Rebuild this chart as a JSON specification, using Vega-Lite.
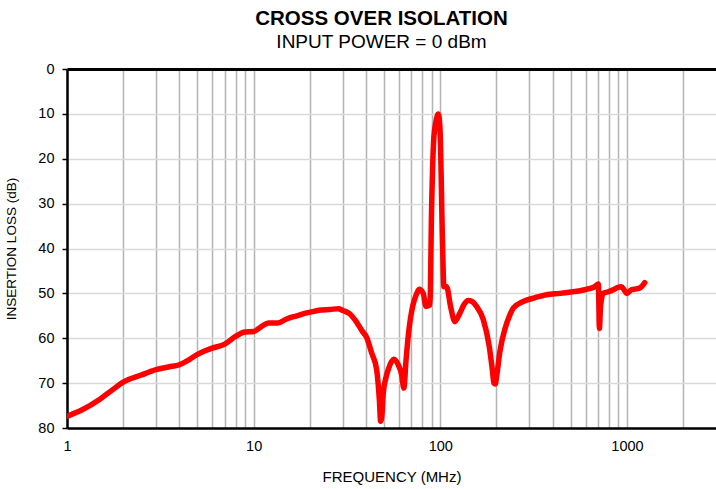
{
  "$schema": "https://vega.github.io/schema/vega-lite/v6.json",
  "width": 649,
  "height": 359,
  "autosize": {"type": "none"},
  "padding": {"left": 67, "top": 69, "right": 0, "bottom": 61},
  "background": "white",
  "title": {
    "text": "CROSS OVER ISOLATION",
    "subtitle": "INPUT POWER = 0 dBm",
    "anchor": "middle",
    "frame": "group",
    "dx": -10,
    "font": "Liberation Sans",
    "fontSize": 20.5,
    "fontWeight": "bold",
    "color": "black",
    "subtitleFont": "Liberation Sans",
    "subtitleFontSize": 19,
    "subtitleColor": "black",
    "subtitlePadding": 4,
    "offset": 9
  },
  "config": {"view": {"stroke": null}},
  "data": {
    "values": [
      {"f": 1, "db": 77.4}, {"f": 1.2, "db": 76.0}, {"f": 1.5, "db": 73.6}, {"f": 1.75, "db": 71.5},
      {"f": 2, "db": 69.8}, {"f": 2.5, "db": 68.2}, {"f": 3, "db": 67.0}, {"f": 3.5, "db": 66.4},
      {"f": 4, "db": 65.9}, {"f": 4.5, "db": 64.8}, {"f": 5, "db": 63.6}, {"f": 5.5, "db": 62.8},
      {"f": 6, "db": 62.2}, {"f": 7, "db": 61.3}, {"f": 8, "db": 59.6}, {"f": 9, "db": 58.6},
      {"f": 10, "db": 58.5}, {"f": 11, "db": 57.4}, {"f": 12, "db": 56.6}, {"f": 13.5, "db": 56.6},
      {"f": 15, "db": 55.7}, {"f": 17, "db": 55.0}, {"f": 19, "db": 54.4}, {"f": 21, "db": 54.0},
      {"f": 23, "db": 53.7}, {"f": 25.6, "db": 53.6}, {"f": 28.4, "db": 53.4}, {"f": 30, "db": 53.8},
      {"f": 32.8, "db": 54.6}, {"f": 35.6, "db": 56.4}, {"f": 38, "db": 58.3}, {"f": 40.3, "db": 59.8},
      {"f": 42.9, "db": 63.3}, {"f": 45.6, "db": 67.0}, {"f": 47.2, "db": 74.0}, {"f": 47.9, "db": 78.5},
      {"f": 48.7, "db": 77.0}, {"f": 49.5, "db": 72.2}, {"f": 51, "db": 69.0}, {"f": 52.6, "db": 67.0},
      {"f": 56.4, "db": 64.7}, {"f": 59.5, "db": 65.9}, {"f": 62, "db": 68.0}, {"f": 63.8, "db": 71.1},
      {"f": 65.5, "db": 65.0}, {"f": 67.3, "db": 59.6}, {"f": 71.1, "db": 52.9}, {"f": 74, "db": 50.5},
      {"f": 77.1, "db": 49.1}, {"f": 81, "db": 50.0}, {"f": 83.8, "db": 52.9}, {"f": 88, "db": 52.6},
      {"f": 89.8, "db": 31.4}, {"f": 92.4, "db": 15.1}, {"f": 95, "db": 11.5}, {"f": 97.5, "db": 10.0},
      {"f": 99.5, "db": 12.8}, {"f": 102.8, "db": 38.8}, {"f": 104.5, "db": 48.5}, {"f": 108.1, "db": 48.5},
      {"f": 113.5, "db": 52.9}, {"f": 119.7, "db": 56.3}, {"f": 127.3, "db": 54.4}, {"f": 134, "db": 52.5},
      {"f": 141.2, "db": 51.6}, {"f": 148, "db": 51.8}, {"f": 156.4, "db": 52.9}, {"f": 169.8, "db": 55.8},
      {"f": 182.9, "db": 61.8}, {"f": 190, "db": 67.0}, {"f": 193.8, "db": 70.0}, {"f": 197, "db": 70.2},
      {"f": 200.4, "db": 68.5}, {"f": 208.5, "db": 63.0}, {"f": 221.8, "db": 58.0}, {"f": 236, "db": 54.8},
      {"f": 246, "db": 53.3}, {"f": 278, "db": 51.8}, {"f": 320, "db": 51.0}, {"f": 370, "db": 50.3},
      {"f": 437, "db": 50.0}, {"f": 500, "db": 49.7}, {"f": 560, "db": 49.4}, {"f": 620, "db": 49.0},
      {"f": 673, "db": 48.5}, {"f": 703, "db": 47.9}, {"f": 712, "db": 57.8}, {"f": 722, "db": 53.0},
      {"f": 746, "db": 50.0}, {"f": 800, "db": 49.6}, {"f": 844, "db": 49.2}, {"f": 890, "db": 48.7},
      {"f": 935, "db": 48.5}, {"f": 965, "db": 49.2}, {"f": 995, "db": 50.0}, {"f": 1058, "db": 49.2},
      {"f": 1120, "db": 49.0}, {"f": 1172, "db": 48.8}, {"f": 1246, "db": 47.6}
    ]
  },
  "mark": {"type": "line", "color": "#ff0000", "strokeWidth": 5.5, "strokeJoin": "round", "strokeCap": "round", "interpolate": "monotone", "clip": true},
  "encoding": {
    "x": {
      "field": "f",
      "type": "quantitative",
      "scale": {"type": "log", "domain": [1, 3000], "nice": false},
      "axis": {
        "title": "FREQUENCY (MHz)",
        "titleFont": "Liberation Sans",
        "titleFontSize": 15,
        "titleFontWeight": "normal",
        "titleColor": "black",
        "titlePadding": 17,
        "values": [1, 2, 3, 4, 5, 6, 7, 8, 9, 10, 20, 30, 40, 50, 60, 70, 80, 90, 100, 200, 300, 400, 500, 600, 700, 800, 900, 1000, 2000],
        "format": "d",
        "labelExpr": "indexof([1, 10, 100, 1000], datum.value) >= 0 ? datum.label : ''",
        "labelFont": "Liberation Sans",
        "labelFontSize": 14.5,
        "labelColor": "black",
        "labelPadding": 11,
        "labelFlush": false,
        "labelOverlap": false,
        "ticks": false,
        "domainColor": "black",
        "domainWidth": 2.5,
        "grid": true,
        "gridColor": "#b3b3b3",
        "gridWidth": 1.5
      }
    },
    "y": {
      "field": "db",
      "type": "quantitative",
      "scale": {"domain": [0, 80], "reverse": true, "nice": false},
      "axis": {
        "title": "INSERTION LOSS (dB)",
        "titleFont": "Liberation Sans",
        "titleFontSize": 13.5,
        "titleFontWeight": "normal",
        "titleColor": "black",
        "titlePadding": 19,
        "values": [0, 10, 20, 30, 40, 50, 60, 70, 80],
        "labelFont": "Liberation Sans",
        "labelFontSize": 14.5,
        "labelColor": "black",
        "labelPadding": 8,
        "tickColor": "black",
        "tickSize": 5,
        "tickWidth": 1.5,
        "domainColor": "black",
        "domainWidth": 2.5,
        "grid": true,
        "gridColor": {"condition": {"test": "datum.value === 0", "value": "black"}, "value": "#d9d9d9"},
        "gridWidth": {"condition": {"test": "datum.value === 0", "value": 3}, "value": 1.5}
      }
    }
  }
}
